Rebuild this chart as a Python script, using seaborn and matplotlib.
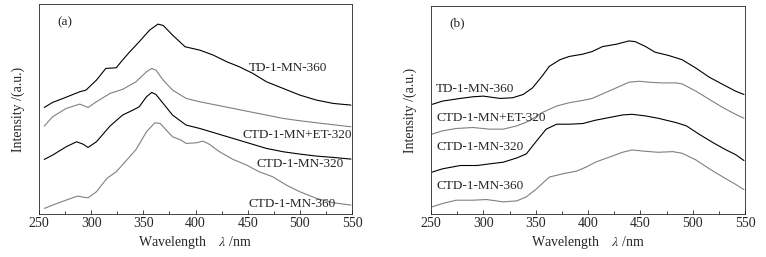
import numpy as np
import pandas as pd
import matplotlib
matplotlib.use("Agg")
import matplotlib.pyplot as plt
import seaborn as sns
from matplotlib.ticker import MultipleLocator

# panel (a) spectra, offset-stacked (arbitrary units)
a_td360_x = [255, 263, 273, 289, 295, 305, 314, 324, 330, 337, 346, 356, 364, 369, 378, 390, 404, 417, 430, 442, 455, 468, 484, 500, 516, 532, 549]
a_td360_y = [320, 335, 347, 367, 372, 402, 437, 439, 462, 487, 517, 552, 570, 566, 537, 502, 492, 477, 457, 442, 422, 397, 377, 357, 342, 332, 327]
a_et320_x = [255, 263, 276, 289, 297, 305, 318, 330, 343, 353, 358, 362, 369, 378, 391, 404, 420, 436, 452, 468, 484, 500, 516, 532, 549]
a_et320_y = [264, 292, 317, 330, 320, 337, 362, 374, 397, 427, 437, 432, 402, 372, 347, 337, 327, 317, 307, 297, 287, 280, 274, 268, 262]
a_mn320_x = [255, 263, 276, 286, 292, 297, 305, 318, 330, 340, 346, 353, 358, 362, 369, 378, 391, 404, 420, 436, 452, 468, 484, 500, 516, 532, 549]
a_mn320_y = [164, 177, 202, 217, 210, 200, 217, 264, 297, 312, 322, 352, 365, 359, 332, 297, 267, 257, 242, 227, 212, 197, 187, 180, 174, 170, 165]
a_mn360_x = [255, 263, 276, 287, 294, 297, 305, 315, 324, 334, 343, 353, 361, 366, 372, 378, 386, 391, 401, 407, 413, 423, 436, 449, 461, 474, 487, 500, 516, 532, 549]
a_mn360_y = [17, 27, 42, 54, 50, 49, 67, 107, 127, 162, 194, 247, 274, 272, 252, 232, 222, 212, 214, 219, 210, 187, 164, 147, 127, 112, 87, 67, 47, 34, 27]

# panel (b) spectra
b_td360_x = [251, 261, 278, 290, 300, 316, 328, 338, 347, 356, 363, 373, 382, 395, 404, 414, 427, 439, 445, 455, 464, 477, 490, 503, 516, 529, 541, 549]
b_td360_y = [332, 342, 350, 355, 357, 350, 352, 362, 382, 417, 447, 467, 477, 484, 492, 507, 514, 524, 522, 507, 490, 480, 467, 442, 414, 392, 372, 362]
b_et320_x = [251, 261, 274, 290, 306, 319, 332, 344, 356, 370, 382, 395, 404, 414, 427, 439, 449, 458, 471, 484, 490, 503, 516, 529, 541, 549]
b_et320_y = [242, 252, 259, 262, 257, 257, 267, 282, 307, 327, 337, 344, 350, 364, 382, 399, 402, 399, 397, 397, 394, 372, 347, 322, 302, 290]
b_mn320_x = [251, 261, 278, 294, 306, 319, 332, 341, 351, 360, 370, 382, 395, 407, 420, 433, 442, 455, 467, 484, 494, 506, 519, 532, 541, 549]
b_mn320_y = [127, 137, 147, 147, 152, 157, 170, 182, 222, 257, 272, 272, 274, 284, 292, 300, 302, 297, 290, 277, 267, 242, 217, 194, 180, 162]
b_mn360_x = [251, 261, 274, 290, 303, 319, 332, 341, 351, 363, 376, 389, 398, 407, 420, 433, 442, 455, 467, 481, 490, 503, 516, 529, 541, 549]
b_mn360_y = [22, 32, 42, 42, 44, 37, 40, 52, 77, 112, 122, 130, 142, 157, 172, 187, 194, 190, 187, 189, 184, 164, 137, 112, 90, 74]

series_a = [("TD-1-MN-360", a_td360_x, a_td360_y, "black"),
            ("CTD-1-MN+ET-320", a_et320_x, a_et320_y, "#808080"),
            ("CTD-1-MN-320", a_mn320_x, a_mn320_y, "black"),
            ("CTD-1-MN-360", a_mn360_x, a_mn360_y, "#808080")]
series_b = [("TD-1-MN-360", b_td360_x, b_td360_y, "black"),
            ("CTD-1-MN+ET-320", b_et320_x, b_et320_y, "#808080"),
            ("CTD-1-MN-320", b_mn320_x, b_mn320_y, "black"),
            ("CTD-1-MN-360", b_mn360_x, b_mn360_y, "#808080")]

# label anchor points (x, y) in data units
labels_a = [(489, 437), (498, 237), (500, 150), (493, 30)]
labels_b = [(255, 380), (255, 290), (255, 202), (255, 84)]

sns.set_style("ticks")
plt.rcParams["font.family"] = ["Liberation Serif", "DejaVu Serif"]
plt.rcParams["mathtext.fontset"] = "stix"

fig = plt.figure(figsize=(7.66, 2.57), dpi=100)
ax_a = fig.add_axes([0.051, 0.167, 0.4085, 0.817])
ax_b = fig.add_axes([0.5627, 0.167, 0.4099, 0.810])


def draw(ax, series, labels, ha, tag):
    for (name, xs, ys, col), (lx, ly) in zip(series, labels):
        df = pd.DataFrame({"x": xs, "y": ys})
        sns.lineplot(data=df, x="x", y="y", ax=ax, color=col, lw=0.8)
        ax.text(lx, ly, name, ha=ha, va="center", fontsize=9.5)
    ax.text(0.06, 0.9, tag, transform=ax.transAxes, fontsize=9.5)
    ax.set_xlim(250, 550)
    ax.set_ylim(0, 630)
    ax.xaxis.set_major_locator(MultipleLocator(50))
    ax.xaxis.set_minor_locator(MultipleLocator(25))
    ax.tick_params(axis="x", which="both", direction="in", labelsize=10, pad=2)
    ax.tick_params(axis="x", which="major", length=3, width=0.6)
    ax.tick_params(axis="x", which="minor", length=2, width=0.6)
    ax.set_yticks([])
    for s in ax.spines.values():
        s.set_linewidth(0.6)
    ax.set_xlabel(r"Wavelength    $\lambda$ /nm", fontsize=10, labelpad=3)
    ax.set_ylabel("Intensity /(a.u.)", fontsize=10, labelpad=10)


draw(ax_a, series_a, labels_a, "center", "(a)")
draw(ax_b, series_b, labels_b, "left", "(b)")

fig.savefig("out.png", dpi=100)
